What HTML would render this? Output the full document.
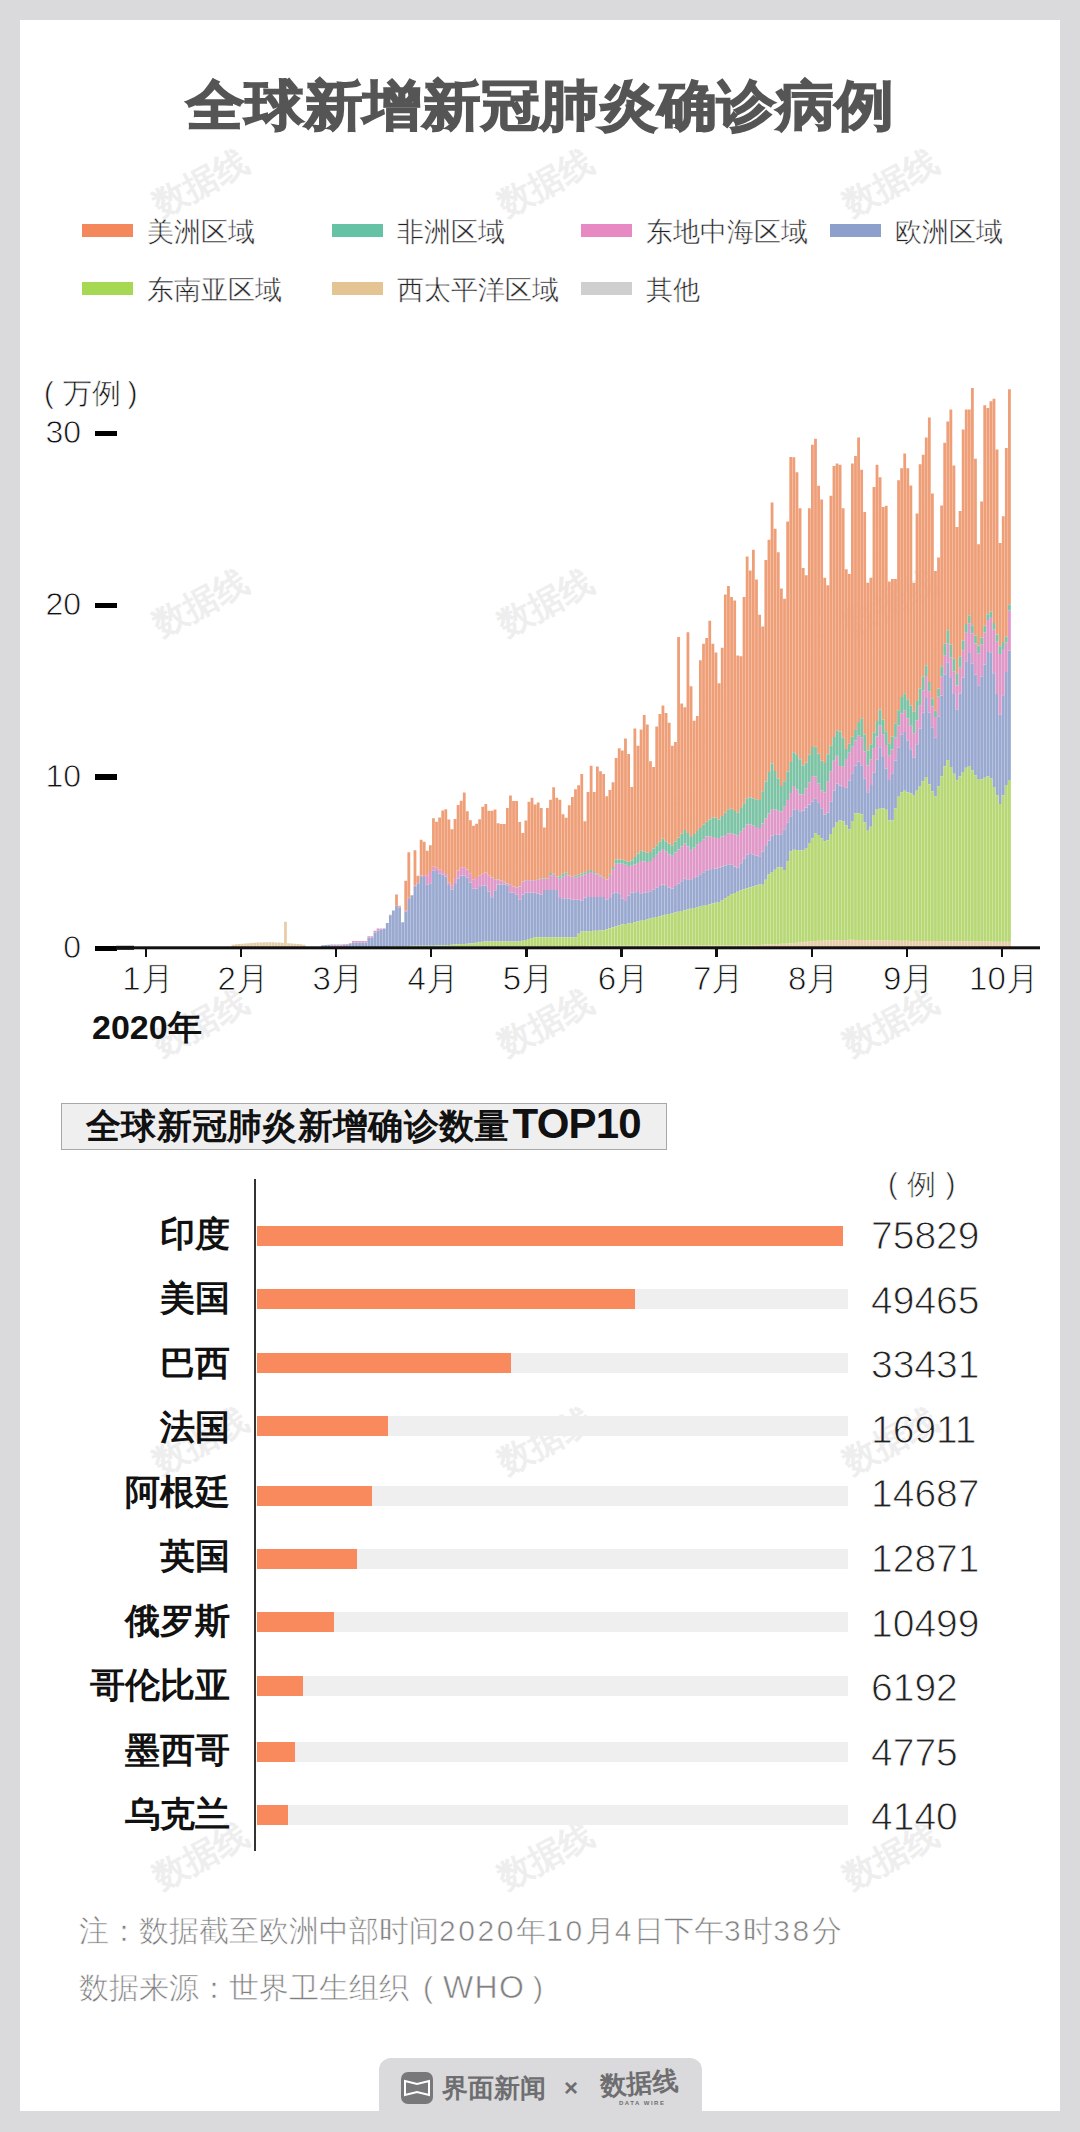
<!DOCTYPE html>
<html><head><meta charset="utf-8"><style>
html,body{margin:0;padding:0;}
body{width:1080px;height:2132px;background:#DADADC;position:relative;overflow:hidden;font-family:"Liberation Sans",sans-serif;}
.card{position:absolute;left:20px;top:20px;width:1040px;height:2091px;background:#fff;}
.abs{position:absolute;}
.title{position:absolute;left:0;width:1080px;top:70.5px;text-align:center;font-size:59px;font-weight:bold;color:#555;-webkit-text-stroke:1.6px #555;line-height:70px;transform:scaleY(0.92);transform-origin:50% 50%;}
.wm{position:absolute;width:120px;height:56px;font-size:34px;line-height:56px;text-align:center;color:#EEEEEE;font-weight:bold;transform:rotate(-28deg);}
.sw{position:absolute;width:51px;height:13px;}
.lt{position:absolute;font-size:27px;line-height:40px;color:#222;white-space:nowrap;-webkit-text-stroke:0.5px #fff;}
.yl{position:absolute;left:21.5px;width:59.5px;text-align:right;font-size:32px;line-height:36px;color:#111;-webkit-text-stroke:0.8px #fff;}
.tk{position:absolute;left:94.5px;width:22px;height:5.5px;background:#000;}
.mt{position:absolute;top:947px;width:2.4px;height:10px;background:#111;}
.ml{position:absolute;top:959px;width:100px;text-align:center;font-size:33px;line-height:40px;color:#111;-webkit-text-stroke:0.8px #fff;}
.bg{position:absolute;left:256.5px;width:591.5px;height:20px;background:#EFEFEF;}
.fg{position:absolute;left:256.5px;height:20px;background:#F88A5E;}
.cn{position:absolute;left:42px;width:188px;text-align:right;font-size:35px;line-height:48px;font-weight:bold;color:#111;white-space:nowrap;}
.nv{position:absolute;left:871px;font-size:39px;line-height:46px;color:#222;margin-top:1.5px;-webkit-text-stroke:0.9px #fff;}
.dg{letter-spacing:2.6px;}
.foot{position:absolute;left:79px;font-size:30px;line-height:40px;color:#808080;white-space:nowrap;-webkit-text-stroke:0.6px #fff;}
</style></head><body>
<div class="card"></div>
<div class="wm" style="left:140px;top:154px">数据线</div><div class="wm" style="left:485px;top:154px">数据线</div><div class="wm" style="left:830px;top:154px">数据线</div><div class="wm" style="left:140px;top:574px">数据线</div><div class="wm" style="left:485px;top:574px">数据线</div><div class="wm" style="left:830px;top:574px">数据线</div><div class="wm" style="left:140px;top:994px">数据线</div><div class="wm" style="left:485px;top:994px">数据线</div><div class="wm" style="left:830px;top:994px">数据线</div><div class="wm" style="left:140px;top:1412px">数据线</div><div class="wm" style="left:485px;top:1412px">数据线</div><div class="wm" style="left:830px;top:1412px">数据线</div><div class="wm" style="left:140px;top:1827px">数据线</div><div class="wm" style="left:485px;top:1827px">数据线</div><div class="wm" style="left:830px;top:1827px">数据线</div>
<div class="title">全球新增新冠肺炎确诊病例</div>
<div class="sw" style="left:82px;top:224px;background:#F4885C"></div><div class="lt" style="left:147px;top:212px">美洲区域</div><div class="sw" style="left:332px;top:224px;background:#66C2A5"></div><div class="lt" style="left:397px;top:212px">非洲区域</div><div class="sw" style="left:581px;top:224px;background:#E78AC3"></div><div class="lt" style="left:646px;top:212px">东地中海区域</div><div class="sw" style="left:830px;top:224px;background:#8DA0CB"></div><div class="lt" style="left:895px;top:212px">欧洲区域</div><div class="sw" style="left:82px;top:282px;background:#A6D854"></div><div class="lt" style="left:147px;top:270px">东南亚区域</div><div class="sw" style="left:332px;top:282px;background:#E5C494"></div><div class="lt" style="left:397px;top:270px">西太平洋区域</div><div class="sw" style="left:581px;top:282px;background:#CFCFCF"></div><div class="lt" style="left:646px;top:270px">其他</div>
<div class="abs" style="left:44px;top:375px;font-size:29px;line-height:36px;color:#111;white-space:nowrap;-webkit-text-stroke:0.6px #fff;">(<span style="margin-left:9px">万例</span><span style="margin-left:7px">)</span></div>
<div class="yl" style="top:414.3px">30</div><div class="tk" style="top:430.6px"></div><div class="yl" style="top:586.3px">20</div><div class="tk" style="top:602.6px"></div><div class="yl" style="top:757.7px">10</div><div class="tk" style="top:774.0px"></div><div class="yl" style="top:929.3px">0</div><div class="tk" style="top:945.6px"></div>
<svg class="abs" style="left:0;top:0" width="1080" height="1080" viewBox="0 0 1080 1080">
<path fill="#E8CDAA" d="M231.54 944.70h2.8V947.80h-2.8zM234.63 944.37h2.8V947.80h-2.8zM237.72 944.05h2.8V947.80h-2.8zM240.81 943.74h2.8V947.80h-2.8zM243.90 943.45h2.8V947.80h-2.8zM246.99 943.18h2.8V947.80h-2.8zM250.08 942.94h2.8V947.80h-2.8zM253.17 942.74h2.8V947.80h-2.8zM256.26 942.57h2.8V947.80h-2.8zM259.35 942.44h2.8V947.80h-2.8zM262.44 942.35h2.8V947.80h-2.8zM265.53 942.31h2.8V947.80h-2.8zM268.62 942.31h2.8V947.80h-2.8zM271.71 942.35h2.8V947.80h-2.8zM274.80 942.44h2.8V947.80h-2.8zM277.89 942.56h2.8V947.80h-2.8zM280.98 942.73h2.8V947.80h-2.8zM284.07 921.80h2.8V947.80h-2.8zM287.16 943.18h2.8V947.80h-2.8zM290.25 943.44h2.8V947.80h-2.8zM293.34 943.73h2.8V947.80h-2.8zM296.43 944.04h2.8V947.80h-2.8zM299.52 944.36h2.8V947.80h-2.8zM302.61 944.69h2.8V947.80h-2.8zM330.41 947.60h2.8V947.80h-2.8zM333.49 947.60h2.8V947.80h-2.8zM336.57 947.60h2.8V947.80h-2.8zM339.65 947.60h2.8V947.80h-2.8zM342.73 947.60h2.8V947.80h-2.8zM345.82 947.60h2.8V947.80h-2.8zM348.90 947.60h2.8V947.80h-2.8zM351.98 947.60h2.8V947.80h-2.8zM355.06 947.60h2.8V947.80h-2.8zM358.14 947.60h2.8V947.80h-2.8zM361.22 947.60h2.8V947.80h-2.8zM364.30 947.60h2.8V947.80h-2.8zM367.38 947.60h2.8V947.80h-2.8zM370.46 947.60h2.8V947.80h-2.8zM373.54 947.60h2.8V947.80h-2.8zM376.62 947.60h2.8V947.80h-2.8zM379.70 947.60h2.8V947.80h-2.8zM382.78 947.60h2.8V947.80h-2.8zM385.86 947.60h2.8V947.80h-2.8zM388.94 946.96h2.8V947.80h-2.8zM392.02 946.95h2.8V947.80h-2.8zM395.10 946.93h2.8V947.80h-2.8zM398.18 946.91h2.8V947.80h-2.8zM401.26 946.90h2.8V947.80h-2.8zM404.34 946.88h2.8V947.80h-2.8zM407.42 946.86h2.8V947.80h-2.8zM410.50 946.84h2.8V947.80h-2.8zM413.58 946.83h2.8V947.80h-2.8zM416.66 946.81h2.8V947.80h-2.8zM419.74 946.79h2.8V947.80h-2.8zM422.82 946.77h2.8V947.80h-2.8zM425.90 946.76h2.8V947.80h-2.8zM428.98 946.74h2.8V947.80h-2.8zM432.06 946.72h2.8V947.80h-2.8zM435.14 946.71h2.8V947.80h-2.8zM438.22 946.69h2.8V947.80h-2.8zM441.30 946.67h2.8V947.80h-2.8zM444.38 946.65h2.8V947.80h-2.8zM447.46 946.64h2.8V947.80h-2.8zM450.54 946.62h2.8V947.80h-2.8zM453.62 946.60h2.8V947.80h-2.8zM456.70 946.59h2.8V947.80h-2.8zM459.78 946.57h2.8V947.80h-2.8zM462.86 946.55h2.8V947.80h-2.8zM465.94 946.53h2.8V947.80h-2.8zM469.02 946.52h2.8V947.80h-2.8zM472.10 946.50h2.8V947.80h-2.8zM475.18 946.48h2.8V947.80h-2.8zM478.26 946.47h2.8V947.80h-2.8zM481.34 946.45h2.8V947.80h-2.8zM484.42 946.43h2.8V947.80h-2.8zM487.50 946.41h2.8V947.80h-2.8zM490.58 946.40h2.8V947.80h-2.8zM493.66 946.38h2.8V947.80h-2.8zM496.74 946.36h2.8V947.80h-2.8zM499.82 946.35h2.8V947.80h-2.8zM502.90 946.33h2.8V947.80h-2.8zM505.98 946.31h2.8V947.80h-2.8zM509.06 946.29h2.8V947.80h-2.8zM512.14 946.28h2.8V947.80h-2.8zM515.22 946.26h2.8V947.80h-2.8zM518.30 946.24h2.8V947.80h-2.8zM521.38 946.23h2.8V947.80h-2.8zM524.46 946.21h2.8V947.80h-2.8zM527.54 946.19h2.8V947.80h-2.8zM530.63 946.17h2.8V947.80h-2.8zM533.71 946.16h2.8V947.80h-2.8zM536.79 946.14h2.8V947.80h-2.8zM539.87 946.12h2.8V947.80h-2.8zM542.95 946.11h2.8V947.80h-2.8zM546.03 946.09h2.8V947.80h-2.8zM549.12 946.07h2.8V947.80h-2.8zM552.25 946.05h2.8V947.80h-2.8zM555.37 946.04h2.8V947.80h-2.8zM558.49 946.02h2.8V947.80h-2.8zM561.62 946.00h2.8V947.80h-2.8zM564.74 945.99h2.8V947.80h-2.8zM567.86 945.97h2.8V947.80h-2.8zM570.98 945.95h2.8V947.80h-2.8zM574.11 945.93h2.8V947.80h-2.8zM577.23 945.92h2.8V947.80h-2.8zM580.35 945.90h2.8V947.80h-2.8zM583.48 945.88h2.8V947.80h-2.8zM586.60 945.87h2.8V947.80h-2.8zM589.72 945.85h2.8V947.80h-2.8zM592.85 945.83h2.8V947.80h-2.8zM595.97 945.81h2.8V947.80h-2.8zM599.09 945.80h2.8V947.80h-2.8zM602.22 945.79h2.8V947.80h-2.8zM605.34 945.78h2.8V947.80h-2.8zM608.46 945.77h2.8V947.80h-2.8zM611.59 945.76h2.8V947.80h-2.8zM614.71 945.75h2.8V947.80h-2.8zM617.83 945.74h2.8V947.80h-2.8zM620.95 945.73h2.8V947.80h-2.8zM624.08 945.72h2.8V947.80h-2.8zM627.20 945.71h2.8V947.80h-2.8zM630.32 945.69h2.8V947.80h-2.8zM633.45 945.68h2.8V947.80h-2.8zM636.57 945.67h2.8V947.80h-2.8zM639.69 945.66h2.8V947.80h-2.8zM642.82 945.65h2.8V947.80h-2.8zM645.94 945.64h2.8V947.80h-2.8zM649.06 945.63h2.8V947.80h-2.8zM652.19 945.62h2.8V947.80h-2.8zM655.31 945.61h2.8V947.80h-2.8zM658.43 945.60h2.8V947.80h-2.8zM661.55 945.59h2.8V947.80h-2.8zM664.68 945.58h2.8V947.80h-2.8zM667.80 945.57h2.8V947.80h-2.8zM670.92 945.56h2.8V947.80h-2.8zM674.05 945.55h2.8V947.80h-2.8zM677.17 945.54h2.8V947.80h-2.8zM680.29 945.53h2.8V947.80h-2.8zM683.42 945.52h2.8V947.80h-2.8zM686.54 945.51h2.8V947.80h-2.8zM689.66 945.50h2.8V947.80h-2.8zM692.78 945.49h2.8V947.80h-2.8zM695.89 945.48h2.8V947.80h-2.8zM699.01 945.47h2.8V947.80h-2.8zM702.12 945.46h2.8V947.80h-2.8zM705.24 945.45h2.8V947.80h-2.8zM708.35 945.44h2.8V947.80h-2.8zM711.47 945.43h2.8V947.80h-2.8zM714.58 945.42h2.8V947.80h-2.8zM717.70 945.41h2.8V947.80h-2.8zM720.81 945.40h2.8V947.80h-2.8zM723.93 945.39h2.8V947.80h-2.8zM727.05 945.38h2.8V947.80h-2.8zM730.16 945.37h2.8V947.80h-2.8zM733.28 945.35h2.8V947.80h-2.8zM736.39 945.34h2.8V947.80h-2.8zM739.51 945.33h2.8V947.80h-2.8zM742.62 945.32h2.8V947.80h-2.8zM745.74 945.31h2.8V947.80h-2.8zM748.85 945.30h2.8V947.80h-2.8zM751.97 945.20h2.8V947.80h-2.8zM755.08 945.04h2.8V947.80h-2.8zM758.20 944.89h2.8V947.80h-2.8zM761.31 944.73h2.8V947.80h-2.8zM764.43 944.58h2.8V947.80h-2.8zM767.54 944.42h2.8V947.80h-2.8zM770.66 944.27h2.8V947.80h-2.8zM773.77 944.12h2.8V947.80h-2.8zM776.89 943.96h2.8V947.80h-2.8zM780.01 943.81h2.8V947.80h-2.8zM783.12 943.65h2.8V947.80h-2.8zM786.24 943.50h2.8V947.80h-2.8zM789.35 943.34h2.8V947.80h-2.8zM792.47 943.08h2.8V947.80h-2.8zM795.58 942.77h2.8V947.80h-2.8zM798.70 942.46h2.8V947.80h-2.8zM801.79 942.15h2.8V947.80h-2.8zM804.87 941.84h2.8V947.80h-2.8zM807.95 941.53h2.8V947.80h-2.8zM811.02 941.22h2.8V947.80h-2.8zM814.10 940.91h2.8V947.80h-2.8zM817.17 940.74h2.8V947.80h-2.8zM820.25 940.66h2.8V947.80h-2.8zM823.33 940.57h2.8V947.80h-2.8zM826.40 940.48h2.8V947.80h-2.8zM829.48 940.39h2.8V947.80h-2.8zM832.56 940.30h2.8V947.80h-2.8zM835.63 940.21h2.8V947.80h-2.8zM838.71 940.13h2.8V947.80h-2.8zM841.78 940.04h2.8V947.80h-2.8zM844.86 939.95h2.8V947.80h-2.8zM847.94 939.86h2.8V947.80h-2.8zM851.01 939.82h2.8V947.80h-2.8zM854.09 939.88h2.8V947.80h-2.8zM857.17 939.94h2.8V947.80h-2.8zM860.24 940.00h2.8V947.80h-2.8zM863.32 940.07h2.8V947.80h-2.8zM866.39 940.13h2.8V947.80h-2.8zM869.47 940.19h2.8V947.80h-2.8zM872.55 940.25h2.8V947.80h-2.8zM875.62 940.31h2.8V947.80h-2.8zM878.70 940.38h2.8V947.80h-2.8zM881.78 940.44h2.8V947.80h-2.8zM884.85 940.50h2.8V947.80h-2.8zM887.93 940.56h2.8V947.80h-2.8zM891.01 940.62h2.8V947.80h-2.8zM894.08 940.68h2.8V947.80h-2.8zM897.16 940.75h2.8V947.80h-2.8zM900.23 940.80h2.8V947.80h-2.8zM903.31 940.83h2.8V947.80h-2.8zM906.39 940.85h2.8V947.80h-2.8zM909.46 940.88h2.8V947.80h-2.8zM912.54 940.91h2.8V947.80h-2.8zM915.62 940.93h2.8V947.80h-2.8zM918.69 940.96h2.8V947.80h-2.8zM921.77 940.98h2.8V947.80h-2.8zM924.84 941.01h2.8V947.80h-2.8zM927.92 941.03h2.8V947.80h-2.8zM931.00 941.06h2.8V947.80h-2.8zM934.07 941.09h2.8V947.80h-2.8zM937.15 941.11h2.8V947.80h-2.8zM940.23 941.14h2.8V947.80h-2.8zM943.30 941.16h2.8V947.80h-2.8zM946.38 941.19h2.8V947.80h-2.8zM949.45 941.22h2.8V947.80h-2.8zM952.53 941.24h2.8V947.80h-2.8zM955.61 941.27h2.8V947.80h-2.8zM958.68 941.29h2.8V947.80h-2.8zM961.76 941.32h2.8V947.80h-2.8zM964.84 941.35h2.8V947.80h-2.8zM967.91 941.38h2.8V947.80h-2.8zM970.99 941.41h2.8V947.80h-2.8zM974.06 941.45h2.8V947.80h-2.8zM977.14 941.48h2.8V947.80h-2.8zM980.22 941.51h2.8V947.80h-2.8zM983.31 941.54h2.8V947.80h-2.8zM986.40 941.57h2.8V947.80h-2.8zM989.49 941.60h2.8V947.80h-2.8zM992.58 941.63h2.8V947.80h-2.8zM995.67 941.66h2.8V947.80h-2.8zM998.76 941.69h2.8V947.80h-2.8zM1001.85 941.72h2.8V947.80h-2.8zM1004.94 941.75h2.8V947.80h-2.8zM1008.03 941.79h2.8V947.80h-2.8z"/><path fill="#9AA9D0" d="M321.15 945.17h2.8V947.80h-2.8zM324.24 945.02h2.8V947.80h-2.8zM327.33 944.86h2.8V947.80h-2.8zM330.41 945.23h2.8V947.50h-2.8zM333.49 945.23h2.8V947.50h-2.8zM336.57 945.23h2.8V947.50h-2.8zM339.65 945.23h2.8V947.50h-2.8zM342.73 945.00h2.8V947.50h-2.8zM345.82 944.67h2.8V947.50h-2.8zM348.90 944.12h2.8V947.50h-2.8zM351.98 942.45h2.8V947.50h-2.8zM355.06 942.45h2.8V947.50h-2.8zM358.14 942.45h2.8V947.50h-2.8zM361.22 942.45h2.8V947.50h-2.8zM364.30 942.45h2.8V947.50h-2.8zM367.38 937.40h2.8V947.50h-2.8zM370.46 937.40h2.8V947.50h-2.8zM373.54 932.40h2.8V947.50h-2.8zM376.62 930.53h2.8V947.50h-2.8zM379.70 929.66h2.8V947.50h-2.8zM382.78 928.61h2.8V947.50h-2.8zM385.86 923.06h2.8V947.50h-2.8zM388.94 915.24h2.8V946.06h-2.8zM392.02 910.56h2.8V946.03h-2.8zM395.10 905.72h2.8V946.00h-2.8zM398.18 907.71h2.8V945.97h-2.8zM401.26 922.36h2.8V945.94h-2.8zM404.34 911.68h2.8V945.91h-2.8zM407.42 899.08h2.8V945.88h-2.8zM410.50 895.28h2.8V945.85h-2.8zM413.58 886.90h2.8V945.81h-2.8zM416.66 883.33h2.8V945.78h-2.8zM419.74 877.00h2.8V945.75h-2.8zM422.82 876.95h2.8V945.72h-2.8zM425.90 884.64h2.8V945.69h-2.8zM428.98 883.33h2.8V945.66h-2.8zM432.06 870.77h2.8V945.63h-2.8zM435.14 871.06h2.8V945.60h-2.8zM438.22 873.53h2.8V945.57h-2.8zM441.30 874.44h2.8V945.42h-2.8zM444.38 876.77h2.8V945.20h-2.8zM447.46 885.01h2.8V944.98h-2.8zM450.54 889.53h2.8V944.76h-2.8zM453.62 883.97h2.8V944.54h-2.8zM456.70 878.40h2.8V944.32h-2.8zM459.78 875.60h2.8V944.10h-2.8zM462.86 875.46h2.8V943.89h-2.8zM465.94 877.78h2.8V943.67h-2.8zM469.02 882.57h2.8V943.45h-2.8zM472.10 888.75h2.8V943.23h-2.8zM475.18 888.48h2.8V942.77h-2.8zM478.26 887.02h2.8V942.27h-2.8zM481.34 885.55h2.8V941.77h-2.8zM484.42 885.85h2.8V941.39h-2.8zM487.50 891.51h2.8V941.39h-2.8zM490.58 897.18h2.8V941.39h-2.8zM493.66 890.37h2.8V941.39h-2.8zM496.74 884.44h2.8V941.39h-2.8zM499.82 884.44h2.8V941.39h-2.8zM502.90 884.44h2.8V941.39h-2.8zM505.98 885.13h2.8V941.39h-2.8zM509.06 892.78h2.8V941.39h-2.8zM512.14 892.78h2.8V941.39h-2.8zM515.22 894.63h2.8V941.39h-2.8zM518.30 899.67h2.8V941.39h-2.8zM521.38 894.52h2.8V940.87h-2.8zM524.46 892.78h2.8V939.94h-2.8zM527.54 892.78h2.8V939.01h-2.8zM530.63 892.78h2.8V938.09h-2.8zM533.71 892.78h2.8V937.22h-2.8zM536.79 893.55h2.8V937.22h-2.8zM539.87 894.87h2.8V937.22h-2.8zM542.95 890.00h2.8V937.22h-2.8zM546.03 890.00h2.8V937.22h-2.8zM549.12 890.00h2.8V937.22h-2.8zM552.25 890.00h2.8V937.22h-2.8zM555.37 890.00h2.8V937.22h-2.8zM558.49 898.11h2.8V937.22h-2.8zM561.62 898.33h2.8V937.22h-2.8zM564.74 898.33h2.8V937.22h-2.8zM567.86 898.76h2.8V937.22h-2.8zM570.98 899.72h2.8V937.22h-2.8zM574.11 899.72h2.8V937.22h-2.8zM577.23 899.72h2.8V933.63h-2.8zM580.35 900.78h2.8V931.55h-2.8zM583.48 897.48h2.8V931.38h-2.8zM586.60 896.94h2.8V931.21h-2.8zM589.72 896.94h2.8V931.03h-2.8zM592.85 896.94h2.8V930.86h-2.8zM595.97 896.94h2.8V930.69h-2.8zM599.09 896.94h2.8V930.52h-2.8zM602.22 896.94h2.8V930.35h-2.8zM605.34 899.69h2.8V929.55h-2.8zM608.46 897.90h2.8V928.31h-2.8zM611.59 893.26h2.8V927.20h-2.8zM614.71 892.78h2.8V926.31h-2.8zM617.83 893.30h2.8V925.43h-2.8zM620.95 898.71h2.8V924.62h-2.8zM624.08 900.88h2.8V924.11h-2.8zM627.20 895.47h2.8V923.59h-2.8zM630.32 892.61h2.8V922.96h-2.8zM633.45 892.26h2.8V922.21h-2.8zM636.57 891.95h2.8V921.46h-2.8zM639.69 893.20h2.8V920.71h-2.8zM642.82 892.68h2.8V919.96h-2.8zM645.94 892.17h2.8V919.21h-2.8zM649.06 891.18h2.8V918.46h-2.8zM652.19 889.47h2.8V917.71h-2.8zM655.31 887.75h2.8V916.96h-2.8zM658.43 886.03h2.8V916.20h-2.8zM661.55 884.56h2.8V915.45h-2.8zM664.68 886.10h2.8V914.70h-2.8zM667.80 887.65h2.8V913.95h-2.8zM670.92 888.42h2.8V913.20h-2.8zM674.05 886.01h2.8V912.45h-2.8zM677.17 883.61h2.8V911.70h-2.8zM680.29 881.21h2.8V910.95h-2.8zM683.42 878.80h2.8V910.20h-2.8zM686.54 879.20h2.8V909.45h-2.8zM689.66 879.97h2.8V908.70h-2.8zM692.78 878.10h2.8V907.95h-2.8zM695.89 876.14h2.8V907.20h-2.8zM699.01 874.17h2.8V906.45h-2.8zM702.12 872.20h2.8V905.70h-2.8zM705.24 870.24h2.8V904.95h-2.8zM708.35 869.32h2.8V904.20h-2.8zM711.47 868.88h2.8V903.45h-2.8zM714.58 868.44h2.8V902.70h-2.8zM717.70 867.76h2.8V901.95h-2.8zM720.81 866.60h2.8V900.61h-2.8zM723.93 865.44h2.8V898.29h-2.8zM727.05 864.28h2.8V895.98h-2.8zM730.16 864.63h2.8V894.20h-2.8zM733.28 866.48h2.8V892.96h-2.8zM736.39 867.70h2.8V891.73h-2.8zM739.51 863.29h2.8V890.49h-2.8zM742.62 858.87h2.8V889.25h-2.8zM745.74 854.46h2.8V888.24h-2.8zM748.85 853.91h2.8V887.31h-2.8zM751.97 854.68h2.8V886.38h-2.8zM755.08 855.45h2.8V885.46h-2.8zM758.20 856.23h2.8V884.53h-2.8zM761.31 851.38h2.8V884.83h-2.8zM764.43 845.97h2.8V879.68h-2.8zM767.54 840.56h2.8V874.53h-2.8zM770.66 835.52h2.8V871.96h-2.8zM773.77 835.08h2.8V869.64h-2.8zM776.89 834.64h2.8V867.33h-2.8zM780.01 834.20h2.8V867.59h-2.8zM783.12 829.36h2.8V869.91h-2.8zM786.24 822.79h2.8V861.50h-2.8zM789.35 816.23h2.8V851.61h-2.8zM792.47 809.66h2.8V849.69h-2.8zM795.58 809.98h2.8V850.00h-2.8zM798.70 811.22h2.8V850.31h-2.8zM801.79 810.43h2.8V850.62h-2.8zM804.87 807.49h2.8V847.93h-2.8zM807.95 804.56h2.8V843.12h-2.8zM811.02 801.63h2.8V838.31h-2.8zM814.10 798.69h2.8V833.51h-2.8zM817.17 802.18h2.8V835.10h-2.8zM820.25 808.36h2.8V838.19h-2.8zM823.33 814.54h2.8V841.28h-2.8zM826.40 812.44h2.8V840.16h-2.8zM829.48 801.63h2.8V833.98h-2.8zM832.56 790.81h2.8V827.80h-2.8zM835.63 783.49h2.8V822.07h-2.8zM838.71 785.62h2.8V820.53h-2.8zM841.78 787.00h2.8V821.36h-2.8zM844.86 787.74h2.8V825.48h-2.8zM847.94 780.86h2.8V829.60h-2.8zM851.01 773.33h2.8V820.94h-2.8zM854.09 765.80h2.8V813.15h-2.8zM857.17 761.38h2.8V813.15h-2.8zM860.24 765.31h2.8V814.19h-2.8zM863.32 778.82h2.8V822.43h-2.8zM866.39 792.33h2.8V830.67h-2.8zM869.47 784.94h2.8V826.73h-2.8zM872.55 772.40h2.8V814.99h-2.8zM875.62 759.85h2.8V809.06h-2.8zM878.70 747.31h2.8V808.68h-2.8zM881.78 756.94h2.8V808.29h-2.8zM884.85 768.51h2.8V809.65h-2.8zM887.93 780.08h2.8V820.46h-2.8zM891.01 773.37h2.8V820.46h-2.8zM894.08 760.50h2.8V808.61h-2.8zM897.16 747.63h2.8V796.77h-2.8zM900.23 734.75h2.8V792.35h-2.8zM903.31 732.08h2.8V790.84h-2.8zM906.39 740.64h2.8V792.19h-2.8zM909.46 749.21h2.8V793.54h-2.8zM912.54 757.78h2.8V794.89h-2.8zM915.62 744.14h2.8V790.71h-2.8zM918.69 728.46h2.8V786.02h-2.8zM921.77 712.77h2.8V781.33h-2.8zM924.84 698.07h2.8V777.03h-2.8zM927.92 712.70h2.8V784.17h-2.8zM931.00 727.33h2.8V791.31h-2.8zM934.07 737.68h2.8V796.39h-2.8zM937.15 716.64h2.8V786.33h-2.8zM940.23 695.61h2.8V776.26h-2.8zM943.30 674.57h2.8V766.19h-2.8zM946.38 662.24h2.8V760.11h-2.8zM949.45 678.10h2.8V766.90h-2.8zM952.53 693.95h2.8V773.70h-2.8zM955.61 709.80h2.8V780.50h-2.8zM958.68 693.61h2.8V776.22h-2.8zM961.76 677.42h2.8V771.93h-2.8zM964.84 661.23h2.8V767.65h-2.8zM967.91 652.92h2.8V765.97h-2.8zM970.99 663.74h2.8V770.60h-2.8zM974.06 674.55h2.8V775.24h-2.8zM977.14 685.37h2.8V779.87h-2.8zM980.22 676.84h2.8V779.35h-2.8zM983.31 664.48h2.8V777.81h-2.8zM986.40 652.12h2.8V776.26h-2.8zM989.49 652.29h2.8V778.50h-2.8zM992.58 673.15h2.8V787.00h-2.8zM995.67 694.00h2.8V795.50h-2.8zM998.76 714.86h2.8V804.00h-2.8zM1001.85 695.23h2.8V795.21h-2.8zM1004.94 672.05h2.8V784.91h-2.8zM1008.03 650.81h2.8V779.99h-2.8z"/><path fill="#B7D875" d="M330.41 947.50h2.8V947.60h-2.8zM333.49 947.50h2.8V947.60h-2.8zM336.57 947.50h2.8V947.60h-2.8zM339.65 947.50h2.8V947.60h-2.8zM342.73 947.50h2.8V947.60h-2.8zM345.82 947.50h2.8V947.60h-2.8zM348.90 947.50h2.8V947.60h-2.8zM351.98 947.50h2.8V947.60h-2.8zM355.06 947.50h2.8V947.60h-2.8zM358.14 947.50h2.8V947.60h-2.8zM361.22 947.50h2.8V947.60h-2.8zM364.30 947.50h2.8V947.60h-2.8zM367.38 947.50h2.8V947.60h-2.8zM370.46 947.50h2.8V947.60h-2.8zM373.54 947.50h2.8V947.60h-2.8zM376.62 947.50h2.8V947.60h-2.8zM379.70 947.50h2.8V947.60h-2.8zM382.78 947.50h2.8V947.60h-2.8zM385.86 947.50h2.8V947.60h-2.8zM388.94 946.06h2.8V946.96h-2.8zM392.02 946.03h2.8V946.95h-2.8zM395.10 946.00h2.8V946.93h-2.8zM398.18 945.97h2.8V946.91h-2.8zM401.26 945.94h2.8V946.90h-2.8zM404.34 945.91h2.8V946.88h-2.8zM407.42 945.88h2.8V946.86h-2.8zM410.50 945.85h2.8V946.84h-2.8zM413.58 945.81h2.8V946.83h-2.8zM416.66 945.78h2.8V946.81h-2.8zM419.74 945.75h2.8V946.79h-2.8zM422.82 945.72h2.8V946.77h-2.8zM425.90 945.69h2.8V946.76h-2.8zM428.98 945.66h2.8V946.74h-2.8zM432.06 945.63h2.8V946.72h-2.8zM435.14 945.60h2.8V946.71h-2.8zM438.22 945.57h2.8V946.69h-2.8zM441.30 945.42h2.8V946.67h-2.8zM444.38 945.20h2.8V946.65h-2.8zM447.46 944.98h2.8V946.64h-2.8zM450.54 944.76h2.8V946.62h-2.8zM453.62 944.54h2.8V946.60h-2.8zM456.70 944.32h2.8V946.59h-2.8zM459.78 944.10h2.8V946.57h-2.8zM462.86 943.89h2.8V946.55h-2.8zM465.94 943.67h2.8V946.53h-2.8zM469.02 943.45h2.8V946.52h-2.8zM472.10 943.23h2.8V946.50h-2.8zM475.18 942.77h2.8V946.48h-2.8zM478.26 942.27h2.8V946.47h-2.8zM481.34 941.77h2.8V946.45h-2.8zM484.42 941.39h2.8V946.43h-2.8zM487.50 941.39h2.8V946.41h-2.8zM490.58 941.39h2.8V946.40h-2.8zM493.66 941.39h2.8V946.38h-2.8zM496.74 941.39h2.8V946.36h-2.8zM499.82 941.39h2.8V946.35h-2.8zM502.90 941.39h2.8V946.33h-2.8zM505.98 941.39h2.8V946.31h-2.8zM509.06 941.39h2.8V946.29h-2.8zM512.14 941.39h2.8V946.28h-2.8zM515.22 941.39h2.8V946.26h-2.8zM518.30 941.39h2.8V946.24h-2.8zM521.38 940.87h2.8V946.23h-2.8zM524.46 939.94h2.8V946.21h-2.8zM527.54 939.01h2.8V946.19h-2.8zM530.63 938.09h2.8V946.17h-2.8zM533.71 937.22h2.8V946.16h-2.8zM536.79 937.22h2.8V946.14h-2.8zM539.87 937.22h2.8V946.12h-2.8zM542.95 937.22h2.8V946.11h-2.8zM546.03 937.22h2.8V946.09h-2.8zM549.12 937.22h2.8V946.07h-2.8zM552.25 937.22h2.8V946.05h-2.8zM555.37 937.22h2.8V946.04h-2.8zM558.49 937.22h2.8V946.02h-2.8zM561.62 937.22h2.8V946.00h-2.8zM564.74 937.22h2.8V945.99h-2.8zM567.86 937.22h2.8V945.97h-2.8zM570.98 937.22h2.8V945.95h-2.8zM574.11 937.22h2.8V945.93h-2.8zM577.23 933.63h2.8V945.92h-2.8zM580.35 931.55h2.8V945.90h-2.8zM583.48 931.38h2.8V945.88h-2.8zM586.60 931.21h2.8V945.87h-2.8zM589.72 931.03h2.8V945.85h-2.8zM592.85 930.86h2.8V945.83h-2.8zM595.97 930.69h2.8V945.81h-2.8zM599.09 930.52h2.8V945.80h-2.8zM602.22 930.35h2.8V945.79h-2.8zM605.34 929.55h2.8V945.78h-2.8zM608.46 928.31h2.8V945.77h-2.8zM611.59 927.20h2.8V945.76h-2.8zM614.71 926.31h2.8V945.75h-2.8zM617.83 925.43h2.8V945.74h-2.8zM620.95 924.62h2.8V945.73h-2.8zM624.08 924.11h2.8V945.72h-2.8zM627.20 923.59h2.8V945.71h-2.8zM630.32 922.96h2.8V945.69h-2.8zM633.45 922.21h2.8V945.68h-2.8zM636.57 921.46h2.8V945.67h-2.8zM639.69 920.71h2.8V945.66h-2.8zM642.82 919.96h2.8V945.65h-2.8zM645.94 919.21h2.8V945.64h-2.8zM649.06 918.46h2.8V945.63h-2.8zM652.19 917.71h2.8V945.62h-2.8zM655.31 916.96h2.8V945.61h-2.8zM658.43 916.20h2.8V945.60h-2.8zM661.55 915.45h2.8V945.59h-2.8zM664.68 914.70h2.8V945.58h-2.8zM667.80 913.95h2.8V945.57h-2.8zM670.92 913.20h2.8V945.56h-2.8zM674.05 912.45h2.8V945.55h-2.8zM677.17 911.70h2.8V945.54h-2.8zM680.29 910.95h2.8V945.53h-2.8zM683.42 910.20h2.8V945.52h-2.8zM686.54 909.45h2.8V945.51h-2.8zM689.66 908.70h2.8V945.50h-2.8zM692.78 907.95h2.8V945.49h-2.8zM695.89 907.20h2.8V945.48h-2.8zM699.01 906.45h2.8V945.47h-2.8zM702.12 905.70h2.8V945.46h-2.8zM705.24 904.95h2.8V945.45h-2.8zM708.35 904.20h2.8V945.44h-2.8zM711.47 903.45h2.8V945.43h-2.8zM714.58 902.70h2.8V945.42h-2.8zM717.70 901.95h2.8V945.41h-2.8zM720.81 900.61h2.8V945.40h-2.8zM723.93 898.29h2.8V945.39h-2.8zM727.05 895.98h2.8V945.38h-2.8zM730.16 894.20h2.8V945.37h-2.8zM733.28 892.96h2.8V945.35h-2.8zM736.39 891.73h2.8V945.34h-2.8zM739.51 890.49h2.8V945.33h-2.8zM742.62 889.25h2.8V945.32h-2.8zM745.74 888.24h2.8V945.31h-2.8zM748.85 887.31h2.8V945.30h-2.8zM751.97 886.38h2.8V945.20h-2.8zM755.08 885.46h2.8V945.04h-2.8zM758.20 884.53h2.8V944.89h-2.8zM761.31 884.83h2.8V944.73h-2.8zM764.43 879.68h2.8V944.58h-2.8zM767.54 874.53h2.8V944.42h-2.8zM770.66 871.96h2.8V944.27h-2.8zM773.77 869.64h2.8V944.12h-2.8zM776.89 867.33h2.8V943.96h-2.8zM780.01 867.59h2.8V943.81h-2.8zM783.12 869.91h2.8V943.65h-2.8zM786.24 861.50h2.8V943.50h-2.8zM789.35 851.61h2.8V943.34h-2.8zM792.47 849.69h2.8V943.08h-2.8zM795.58 850.00h2.8V942.77h-2.8zM798.70 850.31h2.8V942.46h-2.8zM801.79 850.62h2.8V942.15h-2.8zM804.87 847.93h2.8V941.84h-2.8zM807.95 843.12h2.8V941.53h-2.8zM811.02 838.31h2.8V941.22h-2.8zM814.10 833.51h2.8V940.91h-2.8zM817.17 835.10h2.8V940.74h-2.8zM820.25 838.19h2.8V940.66h-2.8zM823.33 841.28h2.8V940.57h-2.8zM826.40 840.16h2.8V940.48h-2.8zM829.48 833.98h2.8V940.39h-2.8zM832.56 827.80h2.8V940.30h-2.8zM835.63 822.07h2.8V940.21h-2.8zM838.71 820.53h2.8V940.13h-2.8zM841.78 821.36h2.8V940.04h-2.8zM844.86 825.48h2.8V939.95h-2.8zM847.94 829.60h2.8V939.86h-2.8zM851.01 820.94h2.8V939.82h-2.8zM854.09 813.15h2.8V939.88h-2.8zM857.17 813.15h2.8V939.94h-2.8zM860.24 814.19h2.8V940.00h-2.8zM863.32 822.43h2.8V940.07h-2.8zM866.39 830.67h2.8V940.13h-2.8zM869.47 826.73h2.8V940.19h-2.8zM872.55 814.99h2.8V940.25h-2.8zM875.62 809.06h2.8V940.31h-2.8zM878.70 808.68h2.8V940.38h-2.8zM881.78 808.29h2.8V940.44h-2.8zM884.85 809.65h2.8V940.50h-2.8zM887.93 820.46h2.8V940.56h-2.8zM891.01 820.46h2.8V940.62h-2.8zM894.08 808.61h2.8V940.68h-2.8zM897.16 796.77h2.8V940.75h-2.8zM900.23 792.35h2.8V940.80h-2.8zM903.31 790.84h2.8V940.83h-2.8zM906.39 792.19h2.8V940.85h-2.8zM909.46 793.54h2.8V940.88h-2.8zM912.54 794.89h2.8V940.91h-2.8zM915.62 790.71h2.8V940.93h-2.8zM918.69 786.02h2.8V940.96h-2.8zM921.77 781.33h2.8V940.98h-2.8zM924.84 777.03h2.8V941.01h-2.8zM927.92 784.17h2.8V941.03h-2.8zM931.00 791.31h2.8V941.06h-2.8zM934.07 796.39h2.8V941.09h-2.8zM937.15 786.33h2.8V941.11h-2.8zM940.23 776.26h2.8V941.14h-2.8zM943.30 766.19h2.8V941.16h-2.8zM946.38 760.11h2.8V941.19h-2.8zM949.45 766.90h2.8V941.22h-2.8zM952.53 773.70h2.8V941.24h-2.8zM955.61 780.50h2.8V941.27h-2.8zM958.68 776.22h2.8V941.29h-2.8zM961.76 771.93h2.8V941.32h-2.8zM964.84 767.65h2.8V941.35h-2.8zM967.91 765.97h2.8V941.38h-2.8zM970.99 770.60h2.8V941.41h-2.8zM974.06 775.24h2.8V941.45h-2.8zM977.14 779.87h2.8V941.48h-2.8zM980.22 779.35h2.8V941.51h-2.8zM983.31 777.81h2.8V941.54h-2.8zM986.40 776.26h2.8V941.57h-2.8zM989.49 778.50h2.8V941.60h-2.8zM992.58 787.00h2.8V941.63h-2.8zM995.67 795.50h2.8V941.66h-2.8zM998.76 804.00h2.8V941.69h-2.8zM1001.85 795.21h2.8V941.72h-2.8zM1004.94 784.91h2.8V941.75h-2.8zM1008.03 779.99h2.8V941.79h-2.8z"/><path fill="#E098C8" d="M330.41 944.58h2.8V945.23h-2.8zM333.49 944.58h2.8V945.23h-2.8zM336.57 944.58h2.8V945.23h-2.8zM339.65 944.58h2.8V945.23h-2.8zM342.73 944.31h2.8V945.00h-2.8zM345.82 943.89h2.8V944.67h-2.8zM348.90 943.19h2.8V944.12h-2.8zM351.98 941.11h2.8V942.45h-2.8zM355.06 941.11h2.8V942.45h-2.8zM358.14 941.11h2.8V942.45h-2.8zM361.22 941.11h2.8V942.45h-2.8zM364.30 941.11h2.8V942.45h-2.8zM367.38 936.25h2.8V937.40h-2.8zM370.46 936.25h2.8V937.40h-2.8zM373.54 930.69h2.8V932.40h-2.8zM376.62 928.61h2.8V930.53h-2.8zM379.70 928.61h2.8V929.66h-2.8zM388.94 914.72h2.8V915.24h-2.8zM395.10 905.02h2.8V905.72h-2.8zM398.18 906.79h2.8V907.71h-2.8zM404.34 910.32h2.8V911.68h-2.8zM407.42 897.69h2.8V899.08h-2.8zM413.58 885.51h2.8V886.90h-2.8zM416.66 881.94h2.8V883.33h-2.8zM419.74 875.61h2.8V877.00h-2.8zM422.82 875.12h2.8V876.95h-2.8zM425.90 875.29h2.8V884.64h-2.8zM428.98 870.96h2.8V883.33h-2.8zM432.06 866.64h2.8V870.77h-2.8zM435.14 867.74h2.8V871.06h-2.8zM438.22 869.59h2.8V873.53h-2.8zM441.30 870.93h2.8V874.44h-2.8zM444.38 873.99h2.8V876.77h-2.8zM447.46 882.23h2.8V885.01h-2.8zM450.54 885.30h2.8V889.53h-2.8zM453.62 877.88h2.8V883.97h-2.8zM456.70 870.46h2.8V878.40h-2.8zM459.78 867.27h2.8V875.60h-2.8zM462.86 867.13h2.8V875.46h-2.8zM465.94 869.45h2.8V877.78h-2.8zM469.02 873.74h2.8V882.57h-2.8zM472.10 879.15h2.8V888.75h-2.8zM475.18 878.11h2.8V888.48h-2.8zM478.26 875.87h2.8V887.02h-2.8zM481.34 873.63h2.8V885.55h-2.8zM484.42 872.58h2.8V885.85h-2.8zM487.50 875.16h2.8V891.51h-2.8zM490.58 877.73h2.8V897.18h-2.8zM493.66 879.23h2.8V890.37h-2.8zM496.74 879.85h2.8V884.44h-2.8zM499.82 880.71h2.8V884.44h-2.8zM502.90 882.14h2.8V884.44h-2.8zM505.98 883.56h2.8V885.13h-2.8zM509.06 884.99h2.8V892.78h-2.8zM512.14 886.41h2.8V892.78h-2.8zM515.22 887.84h2.8V894.63h-2.8zM518.30 886.48h2.8V899.67h-2.8zM521.38 881.84h2.8V894.52h-2.8zM524.46 880.28h2.8V892.78h-2.8zM527.54 880.28h2.8V892.78h-2.8zM530.63 880.28h2.8V892.78h-2.8zM533.71 880.28h2.8V892.78h-2.8zM536.79 880.02h2.8V893.55h-2.8zM539.87 878.89h2.8V894.87h-2.8zM542.95 878.89h2.8V890.00h-2.8zM546.03 878.89h2.8V890.00h-2.8zM549.12 875.36h2.8V890.00h-2.8zM552.25 874.72h2.8V890.00h-2.8zM555.37 876.78h2.8V890.00h-2.8zM558.49 878.84h2.8V898.11h-2.8zM561.62 876.63h2.8V898.33h-2.8zM564.74 874.86h2.8V898.33h-2.8zM567.86 875.63h2.8V898.76h-2.8zM570.98 876.40h2.8V899.72h-2.8zM574.11 877.18h2.8V899.72h-2.8zM577.23 876.78h2.8V899.72h-2.8zM580.35 875.54h2.8V900.78h-2.8zM583.48 874.31h2.8V897.48h-2.8zM586.60 873.07h2.8V896.94h-2.8zM589.72 872.05h2.8V896.94h-2.8zM592.85 873.29h2.8V896.94h-2.8zM595.97 874.52h2.8V896.94h-2.8zM599.09 876.20h2.8V896.94h-2.8zM602.22 877.97h2.8V896.94h-2.8zM605.34 879.74h2.8V899.69h-2.8zM608.46 875.99h2.8V897.90h-2.8zM611.59 869.81h2.8V893.26h-2.8zM614.71 863.63h2.8V892.78h-2.8zM617.83 863.61h2.8V893.30h-2.8zM620.95 863.82h2.8V898.71h-2.8zM624.08 864.85h2.8V900.88h-2.8zM627.20 865.88h2.8V895.47h-2.8zM630.32 865.72h2.8V892.61h-2.8zM633.45 864.39h2.8V892.26h-2.8zM636.57 863.04h2.8V891.95h-2.8zM639.69 860.88h2.8V893.20h-2.8zM642.82 861.39h2.8V892.68h-2.8zM645.94 861.91h2.8V892.17h-2.8zM649.06 861.02h2.8V891.18h-2.8zM652.19 857.93h2.8V889.47h-2.8zM655.31 854.84h2.8V887.75h-2.8zM658.43 851.75h2.8V886.03h-2.8zM661.55 849.08h2.8V884.56h-2.8zM664.68 851.65h2.8V886.10h-2.8zM667.80 854.23h2.8V887.65h-2.8zM670.92 855.69h2.8V888.42h-2.8zM674.05 852.60h2.8V886.01h-2.8zM677.17 849.51h2.8V883.61h-2.8zM680.29 846.42h2.8V881.21h-2.8zM683.42 843.33h2.8V878.80h-2.8zM686.54 846.37h2.8V879.20h-2.8zM689.66 850.23h2.8V879.97h-2.8zM692.78 847.66h2.8V878.10h-2.8zM695.89 844.85h2.8V876.14h-2.8zM699.01 842.04h2.8V874.17h-2.8zM702.12 839.23h2.8V872.20h-2.8zM705.24 836.43h2.8V870.24h-2.8zM708.35 836.17h2.8V869.32h-2.8zM711.47 837.05h2.8V868.88h-2.8zM714.58 837.93h2.8V868.44h-2.8zM717.70 838.00h2.8V867.76h-2.8zM720.81 836.46h2.8V866.60h-2.8zM723.93 834.91h2.8V865.44h-2.8zM727.05 833.37h2.8V864.28h-2.8zM730.16 833.21h2.8V864.63h-2.8zM733.28 834.45h2.8V866.48h-2.8zM736.39 835.20h2.8V867.70h-2.8zM739.51 831.67h2.8V863.29h-2.8zM742.62 828.13h2.8V858.87h-2.8zM745.74 824.60h2.8V854.46h-2.8zM748.85 824.57h2.8V853.91h-2.8zM751.97 825.73h2.8V854.68h-2.8zM755.08 826.88h2.8V855.45h-2.8zM758.20 828.04h2.8V856.23h-2.8zM761.31 823.58h2.8V851.38h-2.8zM764.43 818.56h2.8V845.97h-2.8zM767.54 813.54h2.8V840.56h-2.8zM770.66 808.95h2.8V835.52h-2.8zM773.77 809.84h2.8V835.08h-2.8zM776.89 810.72h2.8V834.64h-2.8zM780.01 811.60h2.8V834.20h-2.8zM783.12 806.86h2.8V829.36h-2.8zM786.24 799.91h2.8V822.79h-2.8zM789.35 792.95h2.8V816.23h-2.8zM792.47 786.00h2.8V809.66h-2.8zM795.58 789.55h2.8V809.98h-2.8zM798.70 794.49h2.8V811.22h-2.8zM801.79 794.36h2.8V810.43h-2.8zM804.87 788.36h2.8V807.49h-2.8zM807.95 782.18h2.8V804.56h-2.8zM811.02 776.00h2.8V801.63h-2.8zM814.10 776.51h2.8V798.69h-2.8zM817.17 783.47h2.8V802.18h-2.8zM820.25 790.42h2.8V808.36h-2.8zM823.33 792.28h2.8V814.54h-2.8zM826.40 781.77h2.8V812.44h-2.8zM829.48 771.26h2.8V801.63h-2.8zM832.56 760.76h2.8V790.81h-2.8zM835.63 755.83h2.8V783.49h-2.8zM838.71 766.02h2.8V785.62h-2.8zM841.78 766.63h2.8V787.00h-2.8zM844.86 759.09h2.8V787.74h-2.8zM847.94 752.83h2.8V780.86h-2.8zM851.01 746.67h2.8V773.33h-2.8zM854.09 740.52h2.8V765.80h-2.8zM857.17 735.77h2.8V761.38h-2.8zM860.24 737.25h2.8V765.31h-2.8zM863.32 751.38h2.8V778.82h-2.8zM866.39 765.51h2.8V792.33h-2.8zM869.47 759.23h2.8V784.94h-2.8zM872.55 747.92h2.8V772.40h-2.8zM875.62 736.62h2.8V759.85h-2.8zM878.70 725.31h2.8V747.31h-2.8zM881.78 734.28h2.8V756.94h-2.8zM884.85 745.03h2.8V768.51h-2.8zM887.93 755.79h2.8V780.08h-2.8zM891.01 749.54h2.8V773.37h-2.8zM894.08 737.55h2.8V760.50h-2.8zM897.16 725.57h2.8V747.63h-2.8zM900.23 713.58h2.8V734.75h-2.8zM903.31 710.87h2.8V732.08h-2.8zM906.39 718.37h2.8V740.64h-2.8zM909.46 725.87h2.8V749.21h-2.8zM912.54 733.37h2.8V757.78h-2.8zM915.62 720.23h2.8V744.14h-2.8zM918.69 705.19h2.8V728.46h-2.8zM921.77 690.15h2.8V712.77h-2.8zM924.84 676.09h2.8V698.07h-2.8zM927.92 691.16h2.8V712.70h-2.8zM931.00 706.23h2.8V727.33h-2.8zM934.07 717.05h2.8V737.68h-2.8zM937.15 696.64h2.8V716.64h-2.8zM940.23 676.22h2.8V695.61h-2.8zM943.30 655.80h2.8V674.57h-2.8zM946.38 643.50h2.8V662.24h-2.8zM949.45 657.47h2.8V678.10h-2.8zM952.53 671.43h2.8V693.95h-2.8zM955.61 685.40h2.8V709.80h-2.8zM958.68 667.87h2.8V693.61h-2.8zM961.76 650.33h2.8V677.42h-2.8zM964.84 632.80h2.8V661.23h-2.8zM967.91 623.32h2.8V652.92h-2.8zM970.99 633.36h2.8V663.74h-2.8zM974.06 643.40h2.8V674.55h-2.8zM977.14 653.45h2.8V685.37h-2.8zM980.22 644.79h2.8V676.84h-2.8zM983.31 632.43h2.8V664.48h-2.8zM986.40 620.07h2.8V652.12h-2.8zM989.49 617.03h2.8V652.29h-2.8zM992.58 629.39h2.8V673.15h-2.8zM995.67 641.75h2.8V694.00h-2.8zM998.76 654.11h2.8V714.86h-2.8zM1001.85 649.02h2.8V695.23h-2.8zM1004.94 642.40h2.8V672.05h-2.8zM1008.03 610.15h2.8V650.81h-2.8z"/><path fill="#EF9F78" d="M395.10 894.58h2.8V905.02h-2.8zM398.18 905.69h2.8V906.79h-2.8zM404.34 880.69h2.8V910.32h-2.8zM407.42 852.22h2.8V897.69h-2.8zM413.58 850.14h2.8V885.51h-2.8zM416.66 875.83h2.8V881.94h-2.8zM419.74 839.72h2.8V875.61h-2.8zM422.82 841.81h2.8V875.12h-2.8zM425.90 850.83h2.8V875.29h-2.8zM428.98 845.28h2.8V870.96h-2.8zM432.06 818.19h2.8V866.64h-2.8zM435.14 821.67h2.8V867.74h-2.8zM438.22 817.50h2.8V869.59h-2.8zM441.30 810.56h2.8V870.93h-2.8zM444.38 809.17h2.8V873.99h-2.8zM447.46 819.58h2.8V882.23h-2.8zM450.54 829.31h2.8V885.30h-2.8zM453.62 818.89h2.8V877.88h-2.8zM456.70 805.00h2.8V870.46h-2.8zM459.78 800.83h2.8V867.27h-2.8zM462.86 792.50h2.8V867.13h-2.8zM465.94 811.25h2.8V869.45h-2.8zM469.02 820.28h2.8V873.74h-2.8zM472.10 825.83h2.8V879.15h-2.8zM475.18 823.75h2.8V878.11h-2.8zM478.26 819.17h2.8V875.87h-2.8zM481.34 806.67h2.8V873.63h-2.8zM484.42 803.89h2.8V872.58h-2.8zM487.50 810.83h2.8V875.16h-2.8zM490.58 810.83h2.8V877.45h-2.8zM493.66 809.44h2.8V878.95h-2.8zM496.74 823.33h2.8V879.57h-2.8zM499.82 824.03h2.8V880.43h-2.8zM502.90 824.03h2.8V881.86h-2.8zM505.98 808.06h2.8V883.28h-2.8zM509.06 795.56h2.8V884.71h-2.8zM512.14 801.11h2.8V886.14h-2.8zM515.22 801.11h2.8V887.56h-2.8zM518.30 821.94h2.8V886.20h-2.8zM521.38 833.06h2.8V881.57h-2.8zM524.46 820.56h2.8V880.00h-2.8zM527.54 801.81h2.8V880.00h-2.8zM530.63 797.64h2.8V880.00h-2.8zM533.71 804.58h2.8V880.00h-2.8zM536.79 802.50h2.8V879.74h-2.8zM539.87 808.06h2.8V878.61h-2.8zM542.95 827.50h2.8V878.61h-2.8zM546.03 808.06h2.8V878.50h-2.8zM549.12 799.72h2.8V873.04h-2.8zM552.25 787.22h2.8V873.85h-2.8zM555.37 797.64h2.8V876.78h-2.8zM558.49 799.72h2.8V876.17h-2.8zM561.62 814.31h2.8V873.85h-2.8zM564.74 817.78h2.8V872.42h-2.8zM567.86 805.28h2.8V875.13h-2.8zM570.98 796.94h2.8V876.40h-2.8zM574.11 789.31h2.8V875.74h-2.8zM577.23 785.14h2.8V874.70h-2.8zM580.35 774.03h2.8V873.46h-2.8zM583.48 821.25h2.8V872.23h-2.8zM586.60 792.08h2.8V870.99h-2.8zM589.72 765.69h2.8V870.02h-2.8zM592.85 792.08h2.8V871.88h-2.8zM595.97 766.39h2.8V873.73h-2.8zM599.09 771.25h2.8V875.62h-2.8zM602.22 774.03h2.8V877.52h-2.8zM605.34 796.25h2.8V879.42h-2.8zM608.46 790.00h2.8V874.72h-2.8zM611.59 782.36h2.8V867.09h-2.8zM614.71 758.06h2.8V859.47h-2.8zM617.83 748.33h2.8V859.44h-2.8zM620.95 750.42h2.8V859.65h-2.8zM624.08 738.61h2.8V860.68h-2.8zM627.20 753.89h2.8V861.71h-2.8zM630.32 787.12h2.8V860.46h-2.8zM633.45 728.46h2.8V856.94h-2.8zM636.57 745.77h2.8V853.41h-2.8zM639.69 729.42h2.8V850.64h-2.8zM642.82 715.00h2.8V851.67h-2.8zM645.94 724.62h2.8V852.70h-2.8zM649.06 761.15h2.8V852.00h-2.8zM652.19 766.92h2.8V848.57h-2.8zM655.31 726.54h2.8V845.13h-2.8zM658.43 714.04h2.8V841.70h-2.8zM661.55 705.38h2.8V838.71h-2.8zM664.68 713.08h2.8V841.28h-2.8zM667.80 722.69h2.8V843.86h-2.8zM670.92 745.77h2.8V845.18h-2.8zM674.05 741.92h2.8V841.41h-2.8zM677.17 637.12h2.8V837.63h-2.8zM680.29 703.46h2.8V833.85h-2.8zM683.42 707.31h2.8V830.08h-2.8zM686.54 632.31h2.8V833.04h-2.8zM689.66 686.15h2.8V836.90h-2.8zM692.78 720.77h2.8V834.06h-2.8zM695.89 715.96h2.8V830.97h-2.8zM699.01 660.19h2.8V827.88h-2.8zM702.12 643.85h2.8V824.79h-2.8zM705.24 638.08h2.8V821.70h-2.8zM708.35 620.77h2.8V819.46h-2.8zM711.47 643.85h2.8V817.61h-2.8zM714.58 652.50h2.8V817.66h-2.8zM717.70 683.27h2.8V819.58h-2.8zM720.81 647.69h2.8V816.10h-2.8zM723.93 594.60h2.8V812.63h-2.8zM727.05 586.00h2.8V809.15h-2.8zM730.16 597.00h2.8V808.64h-2.8zM733.28 600.50h2.8V811.11h-2.8zM736.39 655.38h2.8V812.84h-2.8zM739.51 656.35h2.8V807.98h-2.8zM742.62 597.00h2.8V803.13h-2.8zM745.74 556.50h2.8V798.27h-2.8zM748.85 570.50h2.8V797.61h-2.8zM751.97 549.80h2.8V798.39h-2.8zM755.08 579.40h2.8V799.16h-2.8zM758.20 614.80h2.8V799.93h-2.8zM761.31 626.54h2.8V791.21h-2.8zM764.43 560.00h2.8V781.56h-2.8zM767.54 539.70h2.8V771.90h-2.8zM770.66 502.50h2.8V763.52h-2.8zM773.77 528.70h2.8V771.02h-2.8zM776.89 552.30h2.8V778.53h-2.8zM780.01 588.60h2.8V786.03h-2.8zM783.12 598.80h2.8V781.21h-2.8zM786.24 521.50h2.8V771.56h-2.8zM789.35 457.00h2.8V761.90h-2.8zM792.47 457.29h2.8V752.24h-2.8zM795.58 472.20h2.8V754.93h-2.8zM798.70 508.24h2.8V759.26h-2.8zM801.79 567.90h2.8V765.65h-2.8zM804.87 575.36h2.8V762.38h-2.8zM807.95 508.24h2.8V754.66h-2.8zM811.02 444.86h2.8V746.93h-2.8zM814.10 438.64h2.8V746.68h-2.8zM817.17 485.87h2.8V753.64h-2.8zM820.25 499.54h2.8V760.59h-2.8zM823.33 577.84h2.8V762.99h-2.8zM826.40 585.30h2.8V754.34h-2.8zM829.48 495.81h2.8V745.68h-2.8zM832.56 465.99h2.8V737.03h-2.8zM835.63 463.50h2.8V730.87h-2.8zM838.71 464.74h2.8V731.44h-2.8zM841.78 508.24h2.8V737.81h-2.8zM844.86 569.14h2.8V749.12h-2.8zM847.94 574.11h2.8V743.68h-2.8zM851.01 463.50h2.8V736.82h-2.8zM854.09 456.04h2.8V729.97h-2.8zM857.17 437.40h2.8V722.08h-2.8zM860.24 469.71h2.8V718.30h-2.8zM863.32 511.97h2.8V734.41h-2.8zM866.39 582.81h2.8V750.52h-2.8zM869.47 577.84h2.8V744.36h-2.8zM872.55 487.11h2.8V732.72h-2.8zM875.62 464.74h2.8V721.08h-2.8zM878.70 477.17h2.8V709.44h-2.8zM881.78 507.00h2.8V719.45h-2.8zM884.85 505.76h2.8V731.37h-2.8zM887.93 581.57h2.8V743.29h-2.8zM891.01 579.09h2.8V736.48h-2.8zM894.08 578.99h2.8V723.35h-2.8zM897.16 480.16h2.8V710.22h-2.8zM900.23 468.14h2.8V697.09h-2.8zM903.31 453.45h2.8V693.14h-2.8zM906.39 468.14h2.8V699.32h-2.8zM909.46 485.50h2.8V705.50h-2.8zM912.54 582.99h2.8V711.68h-2.8zM915.62 513.55h2.8V700.97h-2.8zM918.69 464.13h2.8V688.72h-2.8zM921.77 454.79h2.8V676.46h-2.8zM924.84 437.43h2.8V665.14h-2.8zM927.92 417.39h2.8V681.90h-2.8zM931.00 493.51h2.8V698.65h-2.8zM934.07 570.97h2.8V710.73h-2.8zM937.15 557.62h2.8V688.43h-2.8zM940.23 505.53h2.8V666.13h-2.8zM943.30 442.77h2.8V643.83h-2.8zM946.38 421.40h2.8V630.19h-2.8zM949.45 409.38h2.8V644.52h-2.8zM952.53 465.47h2.8V658.86h-2.8zM955.61 526.90h2.8V673.20h-2.8zM958.68 510.88h2.8V656.79h-2.8zM961.76 429.41h2.8V640.39h-2.8zM964.84 409.38h2.8V623.98h-2.8zM967.91 409.38h2.8V615.31h-2.8zM970.99 388.01h2.8V625.35h-2.8zM974.06 458.79h2.8V635.39h-2.8zM977.14 544.26h2.8V645.43h-2.8zM980.22 501.53h2.8V637.42h-2.8zM983.31 405.37h2.8V625.84h-2.8zM986.40 408.04h2.8V614.25h-2.8zM989.49 401.37h2.8V611.40h-2.8zM992.58 398.70h2.8V622.99h-2.8zM995.67 449.44h2.8V634.57h-2.8zM998.76 542.93h2.8V646.16h-2.8zM1001.85 516.22h2.8V642.02h-2.8zM1004.94 448.11h2.8V636.50h-2.8zM1008.03 389.35h2.8V604.81h-2.8z"/><path fill="#7DC4A6" d="M490.58 877.45h2.8V877.73h-2.8zM493.66 878.95h2.8V879.23h-2.8zM496.74 879.57h2.8V879.85h-2.8zM499.82 880.43h2.8V880.71h-2.8zM502.90 881.86h2.8V882.14h-2.8zM505.98 883.28h2.8V883.56h-2.8zM509.06 884.71h2.8V884.99h-2.8zM512.14 886.14h2.8V886.41h-2.8zM515.22 887.56h2.8V887.84h-2.8zM518.30 886.20h2.8V886.48h-2.8zM521.38 881.57h2.8V881.84h-2.8zM524.46 880.00h2.8V880.28h-2.8zM527.54 880.00h2.8V880.28h-2.8zM530.63 880.00h2.8V880.28h-2.8zM533.71 880.00h2.8V880.28h-2.8zM536.79 879.74h2.8V880.02h-2.8zM539.87 878.61h2.8V878.89h-2.8zM542.95 878.61h2.8V878.89h-2.8zM546.03 878.50h2.8V878.89h-2.8zM549.12 873.04h2.8V875.36h-2.8zM552.25 873.85h2.8V874.72h-2.8zM558.49 876.17h2.8V878.84h-2.8zM561.62 873.85h2.8V876.63h-2.8zM564.74 872.42h2.8V874.86h-2.8zM567.86 875.13h2.8V875.63h-2.8zM574.11 875.74h2.8V877.18h-2.8zM577.23 874.70h2.8V876.78h-2.8zM580.35 873.46h2.8V875.54h-2.8zM583.48 872.23h2.8V874.31h-2.8zM586.60 870.99h2.8V873.07h-2.8zM589.72 870.02h2.8V872.05h-2.8zM592.85 871.88h2.8V873.29h-2.8zM595.97 873.73h2.8V874.52h-2.8zM599.09 875.62h2.8V876.20h-2.8zM602.22 877.52h2.8V877.97h-2.8zM605.34 879.42h2.8V879.74h-2.8zM608.46 874.72h2.8V875.99h-2.8zM611.59 867.09h2.8V869.81h-2.8zM614.71 859.47h2.8V863.63h-2.8zM617.83 859.44h2.8V863.61h-2.8zM620.95 859.65h2.8V863.82h-2.8zM624.08 860.68h2.8V864.85h-2.8zM627.20 861.71h2.8V865.88h-2.8zM630.32 860.46h2.8V865.72h-2.8zM633.45 856.94h2.8V864.39h-2.8zM636.57 853.41h2.8V863.04h-2.8zM639.69 850.64h2.8V860.88h-2.8zM642.82 851.67h2.8V861.39h-2.8zM645.94 852.70h2.8V861.91h-2.8zM649.06 852.00h2.8V861.02h-2.8zM652.19 848.57h2.8V857.93h-2.8zM655.31 845.13h2.8V854.84h-2.8zM658.43 841.70h2.8V851.75h-2.8zM661.55 838.71h2.8V849.08h-2.8zM664.68 841.28h2.8V851.65h-2.8zM667.80 843.86h2.8V854.23h-2.8zM670.92 845.18h2.8V855.69h-2.8zM674.05 841.41h2.8V852.60h-2.8zM677.17 837.63h2.8V849.51h-2.8zM680.29 833.85h2.8V846.42h-2.8zM683.42 830.08h2.8V843.33h-2.8zM686.54 833.04h2.8V846.37h-2.8zM689.66 836.90h2.8V850.23h-2.8zM692.78 834.06h2.8V847.66h-2.8zM695.89 830.97h2.8V844.85h-2.8zM699.01 827.88h2.8V842.04h-2.8zM702.12 824.79h2.8V839.23h-2.8zM705.24 821.70h2.8V836.43h-2.8zM708.35 819.46h2.8V836.17h-2.8zM711.47 817.61h2.8V837.05h-2.8zM714.58 817.66h2.8V837.93h-2.8zM717.70 819.58h2.8V838.00h-2.8zM720.81 816.10h2.8V836.46h-2.8zM723.93 812.63h2.8V834.91h-2.8zM727.05 809.15h2.8V833.37h-2.8zM730.16 808.64h2.8V833.21h-2.8zM733.28 811.11h2.8V834.45h-2.8zM736.39 812.84h2.8V835.20h-2.8zM739.51 807.98h2.8V831.67h-2.8zM742.62 803.13h2.8V828.13h-2.8zM745.74 798.27h2.8V824.60h-2.8zM748.85 797.61h2.8V824.57h-2.8zM751.97 798.39h2.8V825.73h-2.8zM755.08 799.16h2.8V826.88h-2.8zM758.20 799.93h2.8V828.04h-2.8zM761.31 791.21h2.8V823.58h-2.8zM764.43 781.56h2.8V818.56h-2.8zM767.54 771.90h2.8V813.54h-2.8zM770.66 763.52h2.8V808.95h-2.8zM773.77 771.02h2.8V809.84h-2.8zM776.89 778.53h2.8V810.72h-2.8zM780.01 786.03h2.8V811.60h-2.8zM783.12 781.21h2.8V806.86h-2.8zM786.24 771.56h2.8V799.91h-2.8zM789.35 761.90h2.8V792.95h-2.8zM792.47 752.24h2.8V786.00h-2.8zM795.58 754.93h2.8V789.55h-2.8zM798.70 759.26h2.8V794.49h-2.8zM801.79 765.65h2.8V794.36h-2.8zM804.87 762.38h2.8V788.36h-2.8zM807.95 754.66h2.8V782.18h-2.8zM811.02 746.93h2.8V776.00h-2.8zM814.10 746.68h2.8V776.51h-2.8zM817.17 753.64h2.8V783.47h-2.8zM820.25 760.59h2.8V790.42h-2.8zM823.33 762.99h2.8V792.28h-2.8zM826.40 754.34h2.8V781.77h-2.8zM829.48 745.68h2.8V771.26h-2.8zM832.56 737.03h2.8V760.76h-2.8zM835.63 730.87h2.8V755.83h-2.8zM838.71 731.44h2.8V766.02h-2.8zM841.78 737.81h2.8V766.63h-2.8zM844.86 749.12h2.8V759.09h-2.8zM847.94 743.68h2.8V752.83h-2.8zM851.01 736.82h2.8V746.67h-2.8zM854.09 729.97h2.8V740.52h-2.8zM857.17 722.08h2.8V735.77h-2.8zM860.24 718.30h2.8V737.25h-2.8zM863.32 734.41h2.8V751.38h-2.8zM866.39 750.52h2.8V765.51h-2.8zM869.47 744.36h2.8V759.23h-2.8zM872.55 732.72h2.8V747.92h-2.8zM875.62 721.08h2.8V736.62h-2.8zM878.70 709.44h2.8V725.31h-2.8zM881.78 719.45h2.8V734.28h-2.8zM884.85 731.37h2.8V745.03h-2.8zM887.93 743.29h2.8V755.79h-2.8zM891.01 736.48h2.8V749.54h-2.8zM894.08 723.35h2.8V737.55h-2.8zM897.16 710.22h2.8V725.57h-2.8zM900.23 697.09h2.8V713.58h-2.8zM903.31 693.14h2.8V710.87h-2.8zM906.39 699.32h2.8V718.37h-2.8zM909.46 705.50h2.8V725.87h-2.8zM912.54 711.68h2.8V733.37h-2.8zM915.62 700.97h2.8V720.23h-2.8zM918.69 688.72h2.8V705.19h-2.8zM921.77 676.46h2.8V690.15h-2.8zM924.84 665.14h2.8V676.09h-2.8zM927.92 681.90h2.8V691.16h-2.8zM931.00 698.65h2.8V706.23h-2.8zM934.07 710.73h2.8V717.05h-2.8zM937.15 688.43h2.8V696.64h-2.8zM940.23 666.13h2.8V676.22h-2.8zM943.30 643.83h2.8V655.80h-2.8zM946.38 630.19h2.8V643.50h-2.8zM949.45 644.52h2.8V657.47h-2.8zM952.53 658.86h2.8V671.43h-2.8zM955.61 673.20h2.8V685.40h-2.8zM958.68 656.79h2.8V667.87h-2.8zM961.76 640.39h2.8V650.33h-2.8zM964.84 623.98h2.8V632.80h-2.8zM967.91 615.31h2.8V623.32h-2.8zM970.99 625.35h2.8V633.36h-2.8zM974.06 635.39h2.8V643.40h-2.8zM977.14 645.43h2.8V653.45h-2.8zM980.22 637.42h2.8V644.79h-2.8zM983.31 625.84h2.8V632.43h-2.8zM986.40 614.25h2.8V620.07h-2.8zM989.49 611.40h2.8V617.03h-2.8zM992.58 622.99h2.8V629.39h-2.8zM995.67 634.57h2.8V641.75h-2.8zM998.76 646.16h2.8V654.11h-2.8zM1001.85 642.02h2.8V649.02h-2.8zM1004.94 636.50h2.8V642.40h-2.8zM1008.03 604.81h2.8V610.15h-2.8z"/>
<rect x="116" y="946.3" width="924" height="3" fill="#111"/>
<rect x="116" y="945.8" width="18" height="4" fill="#111"/>
</svg>
<div class="mt" style="left:144.8px"></div><div class="ml" style="left:98.0px">1月</div><div class="mt" style="left:239.9px"></div><div class="ml" style="left:193.1px">2月</div><div class="mt" style="left:335.0px"></div><div class="ml" style="left:288.2px">3月</div><div class="mt" style="left:430.1px"></div><div class="ml" style="left:383.3px">4月</div><div class="mt" style="left:525.2px"></div><div class="ml" style="left:478.4px">5月</div><div class="mt" style="left:620.3px"></div><div class="ml" style="left:573.5px">6月</div><div class="mt" style="left:715.4px"></div><div class="ml" style="left:668.6px">7月</div><div class="mt" style="left:810.5px"></div><div class="ml" style="left:763.7px">8月</div><div class="mt" style="left:905.6px"></div><div class="ml" style="left:858.8px">9月</div><div class="mt" style="left:1000.7px"></div><div class="ml" style="left:953.9px">10月</div>
<div class="abs" style="left:92px;top:1007px;font-size:34px;line-height:40px;font-weight:bold;color:#111;">2020年</div>
<div class="abs" style="left:61px;top:1103px;width:604px;height:45px;background:#EFEFEF;border:1px solid #A8A8A8;"></div>
<div class="abs" style="left:86px;top:1101px;font-size:35px;letter-spacing:0.3px;line-height:46px;font-weight:bold;color:#111;white-space:nowrap;">全球新冠肺炎新增确诊数量<span style="font-size:42px;letter-spacing:-0.8px;margin-left:3px">TOP10</span></div>
<div class="abs" style="left:254px;top:1179px;width:2px;height:672px;background:#333;"></div>
<div class="abs" style="left:888px;top:1166px;font-size:29px;line-height:36px;color:#222;white-space:nowrap;-webkit-text-stroke:0.6px #fff;">(<span style="margin-left:9px">例</span><span style="margin-left:10px">)</span></div>
<div class="fg" style="top:1226px;width:586.8px"></div><div class="cn" style="top:1209.8px">印度</div><div class="nv" style="top:1211.4px">75829</div><div class="bg" style="top:1289px"></div><div class="fg" style="top:1289px;width:378.7px"></div><div class="cn" style="top:1274.3px">美国</div><div class="nv" style="top:1276.0px">49465</div><div class="bg" style="top:1352.5px"></div><div class="fg" style="top:1352.5px;width:254.5px"></div><div class="cn" style="top:1338.8px">巴西</div><div class="nv" style="top:1340.6px">33431</div><div class="bg" style="top:1416px"></div><div class="fg" style="top:1416px;width:131.3px"></div><div class="cn" style="top:1403.3px">法国</div><div class="nv" style="top:1405.2px">16911</div><div class="bg" style="top:1486px"></div><div class="fg" style="top:1486px;width:115.5px"></div><div class="cn" style="top:1467.8px">阿根廷</div><div class="nv" style="top:1469.8px">14687</div><div class="bg" style="top:1549.2px"></div><div class="fg" style="top:1549.2px;width:100.2px"></div><div class="cn" style="top:1532.3px">英国</div><div class="nv" style="top:1534.4px">12871</div><div class="bg" style="top:1612.4px"></div><div class="fg" style="top:1612.4px;width:77.2px"></div><div class="cn" style="top:1596.8px">俄罗斯</div><div class="nv" style="top:1599.0px">10499</div><div class="bg" style="top:1675.5px"></div><div class="fg" style="top:1675.5px;width:46.2px"></div><div class="cn" style="top:1661.3px">哥伦比亚</div><div class="nv" style="top:1663.6px">6192</div><div class="bg" style="top:1742.3px"></div><div class="fg" style="top:1742.3px;width:38.5px"></div><div class="cn" style="top:1725.8px">墨西哥</div><div class="nv" style="top:1728.2px">4775</div><div class="bg" style="top:1805.3px"></div><div class="fg" style="top:1805.3px;width:31.0px"></div><div class="cn" style="top:1790.3px">乌克兰</div><div class="nv" style="top:1792.8px">4140</div>
<div class="foot" style="top:1911px">注：数据截至欧洲中部时间<span class="dg">2020</span>年<span class="dg">10</span>月<span class="dg">4</span>日下午<span class="dg">3</span>时<span class="dg">38</span>分</div>
<div class="foot" style="top:1967px">数据来源：世界卫生组织<span style="margin-left:14px">(</span><span style="margin-left:10px;letter-spacing:1.3px;font-size:32px">WHO</span><span style="margin-left:8px">)</span></div>
<div class="abs" style="left:379px;top:2058px;width:323px;height:80px;background:#DADADC;border-radius:12px 12px 0 0;"></div>
<div class="abs" style="left:401px;top:2072px;width:32px;height:32px;background:#78787A;border-radius:7px;"></div>
<svg class="abs" style="left:401px;top:2072px" width="32" height="32" viewBox="0 0 32 32"><path d="M4 9 L16 12 L28 9 L28 23 L16 20 L4 23 Z" fill="none" stroke="#fff" stroke-width="2"/><rect x="9" y="13" width="14" height="6" fill="#78787A"/></svg>
<div class="abs" style="left:442px;top:2070px;font-size:26px;line-height:36px;font-weight:bold;color:#6E6E70;white-space:nowrap;">界面新闻</div>
<div class="abs" style="left:564px;top:2070px;font-size:24px;line-height:36px;font-weight:bold;color:#6E6E70;">×</div>
<div class="abs" style="left:600px;top:2066px;font-size:26px;line-height:34px;font-weight:bold;color:#6E6E70;white-space:nowrap;transform:rotate(-4deg);">数据线</div>
<div class="abs" style="left:619px;top:2099px;font-size:6px;line-height:8px;font-weight:bold;color:#6E6E70;letter-spacing:1.5px;">DATA WIRE</div>
</body></html>
